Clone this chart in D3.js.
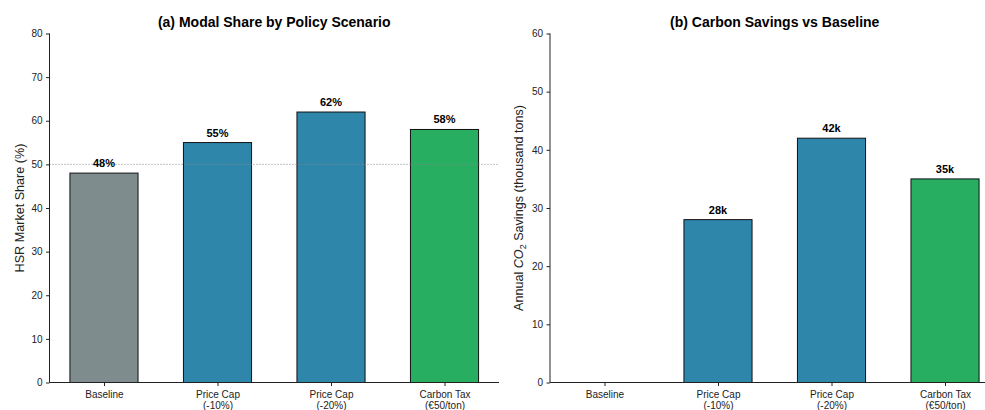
<!DOCTYPE html>
<html>
<head>
<meta charset="utf-8">
<script src="https://cdn.jsdelivr.net/npm/d3@7"></script>
<style>
  html, body { margin: 0; padding: 0; background: #fff; }
  svg { display: block; font-family: "Liberation Sans", Arial, sans-serif; }
</style>
</head>
<body>
<svg id="chart" width="985" height="410"></svg>
<script>
// Policy scenarios and their outcomes
const scenarios = [["Baseline"], ["Price Cap", "(-10%)"], ["Price Cap", "(-20%)"], ["Carbon Tax", "(€50/ton)"]];
const modalShare = [48, 55, 62, 58];           // HSR market share, %
const carbonSavings = [0, 28, 42, 35];         // thousand tons CO2 per year
const barColors = ["#7f8c8d", "#2e86ab", "#2e86ab", "#27ae60"];
const shareTicks = [0, 10, 20, 30, 40, 50, 60, 70, 80];
const savingsTicks = [0, 10, 20, 30, 40, 50, 60];
const referenceShare = 50;

const svg = d3.select("#chart");
const axisColor = "#222";

function panel(opts) {
  const g = svg.append("g");
  const x = d3.scaleLinear().domain([-0.48, scenarios.length - 1 + 0.48]).range([opts.left, opts.right]);
  const y = d3.scaleLinear().domain([0, opts.yMax]).range([opts.bottom, opts.top]);
  const barW = 0.6;

  // bars
  g.selectAll("rect.bar").data(opts.values).enter().append("rect")
    .attr("class", "bar")
    .attr("x", (d, i) => x(i - barW / 2))
    .attr("width", x(barW) - x(0))
    .attr("y", d => y(d))
    .attr("height", d => y(0) - y(d))
    .attr("fill", (d, i) => barColors[i])
    .attr("stroke", d => d > 0 ? "#111" : "none")
    .attr("stroke-width", 1);

  // reference line
  if (opts.refLine !== undefined) {
    g.append("line")
      .attr("x1", opts.left).attr("x2", opts.right)
      .attr("y1", y(opts.refLine)).attr("y2", y(opts.refLine))
      .attr("stroke", "#888").attr("stroke-width", 1)
      .attr("stroke-dasharray", "1,2");
  }

  // value labels (skip empty bars)
  opts.values.forEach((d, i) => {
    if (d <= 0) return;
    g.append("text")
      .attr("x", x(i))
      .attr("y", y(d) - 6)
      .attr("text-anchor", "middle")
      .attr("font-size", 11).attr("font-weight", "bold").attr("fill", "#000")
      .text(opts.fmt(d));
  });

  // y axis
  const yAxis = d3.axisLeft(y).tickValues(opts.ticks).tickSize(3.5).tickPadding(3.5).tickFormat(d3.format("d"));
  const ya = g.append("g").attr("transform", `translate(${opts.left},0)`).call(yAxis);
  ya.select(".domain").attr("stroke", axisColor).attr("stroke-width", 1).attr("d", `M0,${opts.bottom}V${opts.top}`);
  ya.selectAll(".tick line").attr("stroke", axisColor);
  ya.selectAll(".tick text").attr("font-size", 10).attr("fill", "#222").attr("font-family", "Liberation Sans, Arial, sans-serif");

  // x axis
  const xAxis = d3.axisBottom(x).tickValues(d3.range(scenarios.length)).tickSize(3.5).tickPadding(3.5).tickFormat("");
  const xa = g.append("g").attr("transform", `translate(0,${opts.bottom})`).call(xAxis);
  xa.select(".domain").attr("stroke", axisColor).attr("stroke-width", 1).attr("d", `M${opts.left},0H${opts.right}`);
  xa.selectAll(".tick line").attr("stroke", axisColor);
  xa.selectAll(".tick").each(function(d) {
    const t = d3.select(this).append("text")
      .attr("text-anchor", "middle").attr("font-size", 10).attr("fill", "#222")
      .attr("font-family", "Liberation Sans, Arial, sans-serif");
    scenarios[d].forEach((line, k) => {
      t.append("tspan").attr("x", 0).attr("y", 15 + k * 11.5).text(line);
    });
  });

  // title
  g.append("text")
    .attr("x", (opts.left + opts.right) / 2).attr("y", 27)
    .attr("text-anchor", "middle").attr("font-size", 14).attr("font-weight", "bold").attr("fill", "#000")
    .text(opts.title);

  // y label
  const yl = g.append("text")
    .attr("transform", `translate(${opts.ylabelX},${(opts.top + opts.bottom) / 2}) rotate(-90)`)
    .attr("text-anchor", "middle").attr("font-size", 12.6).attr("fill", "#222");
  opts.ylabel(yl);
}

panel({
  left: 49.5, right: 499, top: 33.5, bottom: 382.5, yMax: 80,
  values: modalShare, ticks: shareTicks, refLine: referenceShare,
  fmt: d => d + "%",
  title: "(a) Modal Share by Policy Scenario",
  ylabelX: 24,
  ylabel: t => t.text("HSR Market Share (%)")
});

panel({
  left: 550, right: 999.5, top: 33.5, bottom: 382.5, yMax: 60,
  values: carbonSavings, ticks: savingsTicks,
  fmt: d => d + "k",
  title: "(b) Carbon Savings vs Baseline",
  ylabelX: 523,
  ylabel: t => {
    t.append("tspan").text("Annual ");
    t.append("tspan").attr("font-style", "italic").text("CO");
    t.append("tspan").attr("font-size", 9).attr("dy", 3).text("2");
    t.append("tspan").attr("dy", -3).text(" Savings (thousand tons)");
  }
});
</script>
</body>
</html>
